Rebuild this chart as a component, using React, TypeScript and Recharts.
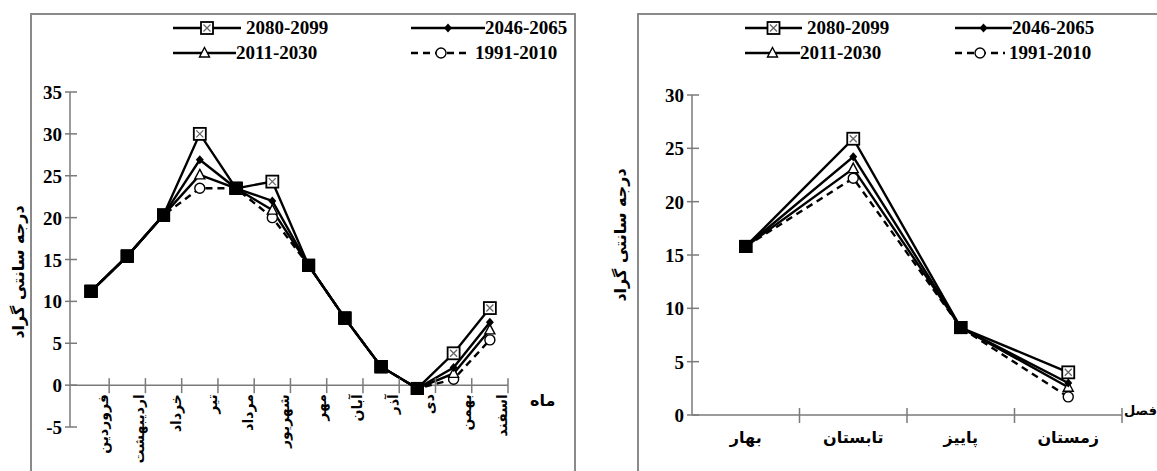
import React from 'react'
import { LineChart, Line, XAxis, YAxis, ReferenceLine } from 'recharts'

// ---- data ----
const MONTHS = ['فروردین', 'اردیبهشت', 'خرداد', 'تیر', 'مرداد', 'شهریور', 'مهر', 'آبان', 'آذر', 'دی', 'بهمن', 'اسفند']
const MONTH_POS = [1, 2, 3, 4, 5, 6, 7, 8, 9, 10, 11, 12]
const MONTH_TICKS = [1.5, 2.5, 3.5, 4.5, 5.5, 6.5, 7.5, 8.5, 9.5, 10.5, 11.5, 12.5]
const M_2080 = [11.2, 15.4, 20.3, 30.0, 23.5, 24.3, 14.3, 8.0, 2.2, -0.4, 3.8, 9.2]
const M_2046 = [11.2, 15.4, 20.3, 26.9, 23.5, 22.0, 14.3, 8.0, 2.2, -0.4, 2.1, 7.5]
const M_2011 = [11.2, 15.4, 20.3, 25.1, 23.5, 20.9, 14.3, 8.0, 2.2, -0.4, 1.4, 6.6]
const M_1991 = [11.2, 15.4, 20.3, 23.5, 23.5, 20.0, 14.3, 8.0, 2.2, -0.4, 0.7, 5.4]
const MONTH_Y_TICKS = [-5, 0, 5, 10, 15, 20, 25, 30, 35]

const SEASONS = ['بهار', 'تابستان', 'پاییز', 'زمستان']
const SEASON_POS = [1, 2, 3, 4]
const S_2080 = [15.8, 25.9, 8.2, 4.0]
const S_2046 = [15.8, 24.2, 8.2, 3.0]
const S_2011 = [15.8, 23.1, 8.2, 2.6]
const S_1991 = [15.8, 22.2, 8.2, 1.7]
const SEASON_Y_TICKS = [0, 5, 10, 15, 20, 25, 30]

const SERIES = [
  { key: 'd', name: '1991-2010', kind: 'circle', dashed: true },
  { key: 'c', name: '2011-2030', kind: 'tri', dashed: false },
  { key: 'b', name: '2046-2065', kind: 'diamond', dashed: false },
  { key: 'a', name: '2080-2099', kind: 'box', dashed: false },
]

const monthData = MONTH_POS.map((m, i) => ({ m, a: M_2080[i], b: M_2046[i], c: M_2011[i], d: M_1991[i] }))
const seasonData = SEASON_POS.map((s, i) => ({ s, a: S_2080[i], b: S_2046[i], c: S_2011[i], d: S_1991[i] }))

// ---- styles ----
const AXIS = '#7a7a7a'
const NUM_FONT = "'Liberation Serif', 'Times New Roman', serif"
const FA_FONT = "'DejaVu Sans', sans-serif"

// left chart geometry
const L_W = 580, L_H = 471, L_TOP = 92, L_BOTTOM = 427, L_AXIS_X = 70, L_RIGHT = 508
const L_ZERO_SHIFT = (L_BOTTOM - L_TOP) * (0 - -5) / (35 - -5)
// right chart geometry
const R_W = 577, R_H = 471, R_TOP = 95, R_BOTTOM = 415, R_AXIS_X = 112, R_RIGHT = 1122 - 580
const R_BAND = (R_RIGHT - R_AXIS_X) / 4

function Marker({ kind, cx, cy }: { kind: string; cx: number; cy: number }) {
  if (kind === 'box') return (
    <g>
      <rect x={cx - 6} y={cy - 6} width={12} height={12} fill="#fff" stroke="#000" strokeWidth={1.8} />
      <path d={`M${cx - 3.5},${cy - 3.5}L${cx + 3.5},${cy + 3.5}M${cx + 3.5},${cy - 3.5}L${cx - 3.5},${cy + 3.5}`} stroke="#666" strokeWidth={1.3} />
    </g>
  )
  if (kind === 'diamond') return <path d={`M${cx},${cy - 4.5}L${cx + 4},${cy}L${cx},${cy + 4.5}L${cx - 4},${cy}Z`} fill="#000" />
  if (kind === 'tri') return <path d={`M${cx},${cy - 5.5}L${cx + 5},${cy + 4}L${cx - 5},${cy + 4}Z`} fill="#fff" stroke="#000" strokeWidth={1.4} />
  return <circle cx={cx} cy={cy} r={5} fill="#fff" stroke="#000" strokeWidth={1.4} />
}

function makeDot(kind: string) {
  return (props: any) => {
    const { cx, cy, payload, index } = props
    if (cx == null || cy == null) return <g key={`${kind}${index}`} />
    const same = payload.a === payload.b && payload.b === payload.c && payload.c === payload.d
    if (same) return <rect key={`${kind}${index}`} x={cx - 6.5} y={cy - 6.5} width={13} height={13} fill="#000" />
    return <Marker key={`${kind}${index}`} kind={kind} cx={cx} cy={cy} />
  }
}

const YTick = (props: any) => {
  const { x, y, payload } = props
  return (
    <g>
      <line x1={x - 5} x2={x + 7} y1={y} y2={y} stroke={AXIS} strokeWidth={1.5} />
      <text x={x - 8} y={y + 7} textAnchor="end" fontFamily={NUM_FONT} fontWeight="bold" fontSize={19} fill="#000">{payload.value}</text>
    </g>
  )
}

const MonthTick = (props: any) => {
  const { x, y, payload } = props
  const i = MONTH_TICKS.indexOf(payload.value)
  const y0 = y - L_ZERO_SHIFT
  return (
    <g>
      <line x1={x} x2={x} y1={y0 - 7} y2={y0 + 8} stroke={AXIS} strokeWidth={1.5} />
      <text transform={`translate(${x - 1},${y0 + 9}) rotate(-90)`} textAnchor="end" fontFamily={FA_FONT} fontWeight="bold" fontSize={14} fill="#000">{MONTHS[i]}</text>
    </g>
  )
}

const SeasonTick = (props: any) => {
  const { x, y, payload } = props
  const i = SEASON_POS.indexOf(payload.value)
  return (
    <g>
      <line x1={x + R_BAND / 2} x2={x + R_BAND / 2} y1={y - 7} y2={y + 8} stroke={AXIS} strokeWidth={1.5} />
      <text x={x} y={y + 28} textAnchor="middle" fontFamily={FA_FONT} fontWeight="bold" fontSize={16} fill="#000">{SEASONS[i]}</text>
    </g>
  )
}

function LegendItem({ x, y, kind, dashed, label, lineW, textGap }: any) {
  return (
    <div style={{ position: 'absolute', left: x, top: y - 11, height: 22, display: 'flex', alignItems: 'center' }}>
      <svg width={lineW} height={22}>
        <line x1={0} x2={lineW} y1={11} y2={11} stroke="#000" strokeWidth={2.4} strokeDasharray={dashed ? '7 5' : undefined} />
        <Marker kind={kind} cx={lineW / 2} cy={11} />
      </svg>
      <span style={{ marginLeft: textGap, fontFamily: NUM_FONT, fontWeight: 'bold', fontSize: 19, color: '#000', whiteSpace: 'nowrap' }}>{label}</span>
    </div>
  )
}

function Lines() {
  return SERIES.map((s) => (
    <Line
      key={s.key}
      type="linear"
      dataKey={s.key}
      name={s.name}
      stroke="#000"
      strokeWidth={2.4}
      strokeDasharray={s.dashed ? '7 5' : undefined}
      dot={makeDot(s.kind)}
      activeDot={false}
      isAnimationActive={false}
    />
  ))
}

export default function App() {
  return (
    <div style={{ position: 'absolute', left: 0, top: 0, width: 1157, height: 471, overflow: 'hidden', background: '#fff' }}>
      {/* frames */}
      <div style={{ position: 'absolute', left: 30, top: 13, width: 546, height: 520, border: '2px solid #8a8a8a', boxSizing: 'border-box' }} />
      <div style={{ position: 'absolute', left: 637, top: 13, width: 600, height: 520, border: '2px solid #8a8a8a', boxSizing: 'border-box' }} />

      {/* left chart: months */}
      <div style={{ position: 'absolute', left: 0, top: 0 }}>
        <LineChart width={L_W} height={L_H} data={monthData} margin={{ top: L_TOP, right: L_W - L_RIGHT, left: 0, bottom: 0 }}>
          <XAxis dataKey="m" type="number" domain={[0.42, 12.5]} ticks={MONTH_TICKS} interval={0} height={L_H - L_BOTTOM}
            axisLine={false} tickLine={false} tickSize={0} tickMargin={0} tick={<MonthTick />} />
          <YAxis domain={[-5, 35]} ticks={MONTH_Y_TICKS} width={L_AXIS_X} interval={0}
            axisLine={{ stroke: AXIS, strokeWidth: 1.5 }} tickLine={false} tickSize={0} tickMargin={0} tick={<YTick />} />
          <ReferenceLine y={0} stroke={AXIS} strokeWidth={1.5} />
          {Lines()}
        </LineChart>
      </div>

      {/* right chart: seasons */}
      <div style={{ position: 'absolute', left: 580, top: 0 }}>
        <LineChart width={R_W} height={R_H} data={seasonData} margin={{ top: R_TOP, right: R_W - R_RIGHT, left: 0, bottom: 0 }}>
          <XAxis dataKey="s" type="number" domain={[0.5, 4.5]} ticks={SEASON_POS} interval={0} height={R_H - R_BOTTOM}
            axisLine={{ stroke: AXIS, strokeWidth: 1.5 }} tickLine={false} tickSize={0} tickMargin={0} tick={<SeasonTick />} />
          <YAxis domain={[0, 30]} ticks={SEASON_Y_TICKS} width={R_AXIS_X} interval={0}
            axisLine={{ stroke: AXIS, strokeWidth: 1.5 }} tickLine={false} tickSize={0} tickMargin={0} tick={<YTick />} />
          {Lines()}
        </LineChart>
      </div>

      {/* axis titles */}
      <div style={{ position: 'absolute', left: 18, top: 272, transform: 'translate(-50%,-50%) rotate(-90deg)', fontFamily: FA_FONT, fontWeight: 'bold', fontSize: 16, whiteSpace: 'nowrap' }}>درجه سانتی گراد</div>
      <div style={{ position: 'absolute', left: 620, top: 235, transform: 'translate(-50%,-50%) rotate(-90deg)', fontFamily: FA_FONT, fontWeight: 'bold', fontSize: 16, whiteSpace: 'nowrap' }}>درجه سانتی گراد</div>
      <div style={{ position: 'absolute', left: 530, top: 391, fontFamily: FA_FONT, fontWeight: 'bold', fontSize: 16 }}>ماه</div>
      <div style={{ position: 'absolute', left: 1124, top: 403, fontFamily: FA_FONT, fontWeight: 'bold', fontSize: 13, whiteSpace: 'nowrap' }}>فصل</div>

      {/* legends */}
      <LegendItem x={173} y={28} kind="box" label="2080-2099" lineW={68} textGap={5} />
      <LegendItem x={411} y={28} kind="diamond" label="2046-2065" lineW={74} textGap={0} />
      <LegendItem x={173} y={53} kind="tri" label="2011-2030" lineW={63} textGap={0} />
      <LegendItem x={411} y={53} kind="circle" dashed label="1991-2010" lineW={60} textGap={4} />

      <LegendItem x={745} y={28} kind="box" label="2080-2099" lineW={57} textGap={5} />
      <LegendItem x={955} y={28} kind="diamond" label="2046-2065" lineW={57} textGap={0} />
      <LegendItem x={745} y={53} kind="tri" label="2011-2030" lineW={55} textGap={0} />
      <LegendItem x={955} y={53} kind="circle" dashed label="1991-2010" lineW={50} textGap={4} />
    </div>
  )
}
